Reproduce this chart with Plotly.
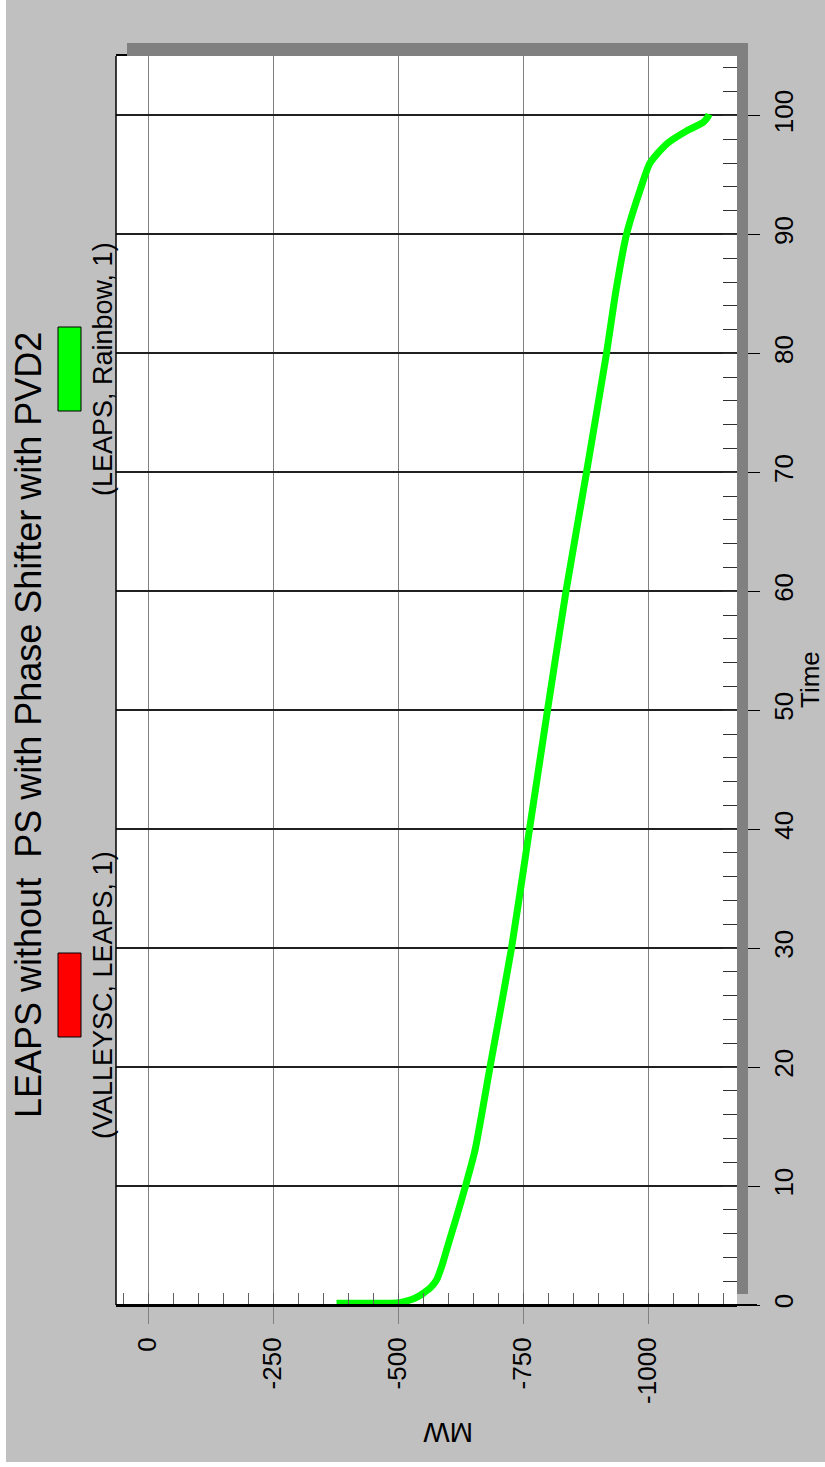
import plotly.graph_objects as go

# Curve (Time in seconds, MW flow)
TIME = [0.15, 0.15, 0.2, 0.42, 0.7, 1.0, 1.5, 2.1, 3.2, 4.6, 7.4, 10, 13, 20, 30, 40,
        50, 60, 70, 80, 85.3, 90, 93.7, 96, 97.6, 98.7, 99.4, 99.9, 100.1]
MW = [-377, -450, -503, -524, -540, -551, -566, -577, -587, -597, -617, -635, -654,
      -684, -727, -763, -799, -836, -877, -917, -936, -957, -984, -1004, -1037,
      -1077, -1110, -1120, -1122]

TITLE = "LEAPS without  PS with Phase Shifter with PVD2"
LEGEND_NAMES = ["(VALLEYSC, LEAPS, 1)", "(LEAPS, Rainbow, 1)"]
LEGEND_COLORS = ["#FF0000", "#00FF00"]
MW_TICKS = [0, -250, -500, -750, -1000]
TIME_TICKS = [0, 10, 20, 30, 40, 50, 60, 70, 80, 90, 100]

W, H = 825, 1467
L, R, T, B = 116, 737, 56, 1305  # plot area in pixels
FONT = "Liberation Sans, Arial, sans-serif"


def px(x):
    return (x - L) / (R - L)


def py(y):
    return (B - y) / (B - T)


def rect(x0, y0, x1, y1, color, line=None, layer="above"):
    return dict(type="rect", xref="paper", yref="paper",
                x0=px(x0), x1=px(x1), y0=py(y1), y1=py(y0),
                fillcolor=color, line=line or dict(width=0), layer=layer)


def label(text, x, y, size, angle=-90):
    return dict(text=text, x=px(x), y=py(y), xref="paper", yref="paper",
                xanchor="center", yanchor="middle", showarrow=False,
                textangle=angle, font=dict(size=size, color="black", family=FONT))


fig = go.Figure()
fig.add_trace(
    go.Scatter(
        x=MW,
        y=TIME,
        mode="lines",
        line=dict(color="#00FF00", width=7, shape="spline", smoothing=0.6),
        showlegend=False,
    )
)

shapes = [
    # white edges of the page
    rect(0, 0, 6, H, "white"),
    rect(0, 1462, W, H, "white"),
    # drop shadow (top and right strips)
    rect(127, 43, 748, 56, "#808080"),
    rect(737, 43, 748, 1294, "#808080"),
    # left border and bottom axis extension
    dict(type="line", xref="paper", yref="paper", x0=0, x1=0, y0=0, y1=1,
         line=dict(color="black", width=1.5)),
    dict(type="line", xref="paper", yref="paper", x0=0, x1=px(757), y0=0, y1=0,
         line=dict(color="black", width=2)),
]

annotations = [
    label(TITLE, 28, 725, 36),
    label("Time", 810, 680, 26),
    label("MW", 448, 1432, 28, angle=180),
]

# legend: coloured boxes with rotated labels
legend_centers = [995, 369]
for name, color, cy in zip(LEGEND_NAMES, LEGEND_COLORS, legend_centers):
    shapes.append(rect(58, cy - 42, 81, cy + 42, color, line=dict(color="black", width=1)))
    annotations.append(label(name, 103, cy, 27))

fig.update_layout(
    width=W,
    height=H,
    margin=dict(l=L, r=W - R, t=T, b=H - B),
    paper_bgcolor="#C0C0C0",
    plot_bgcolor="white",
    font=dict(family=FONT, color="black", size=26),
    showlegend=False,
    shapes=shapes,
    annotations=annotations,
    xaxis=dict(
        range=[64, -1178],
        tickvals=MW_TICKS,
        ticktext=[str(v) for v in MW_TICKS],
        tickangle=-90,
        ticks="outside",
        ticklen=17,
        tickcolor="#808080",
        ticklabelstandoff=3,
        showgrid=True,
        gridcolor="#808080",
        gridwidth=1,
        zeroline=False,
        showline=True,
        linecolor="black",
        linewidth=2,
        mirror=True,
        minor=dict(ticks="inside", dtick=50, tick0=0, ticklen=12, tickcolor="#606060", showgrid=False),
    ),
    yaxis=dict(
        range=[0, 105],
        side="right",
        tickvals=TIME_TICKS,
        tickangle=-90,
        ticks="outside",
        ticklen=22,
        tickcolor="black",
        ticklabelstandoff=2,
        showgrid=True,
        gridcolor="#202020",
        gridwidth=1.5,
        zeroline=False,
        showline=False,
        minor=dict(ticks="inside", dtick=2, tick0=0, ticklen=14, tickcolor="#303030", showgrid=False),
    ),
)

fig.write_html(
    "out.html",
    config={"displayModeBar": False},
    post_script="document.body.style.margin='0';",
)
